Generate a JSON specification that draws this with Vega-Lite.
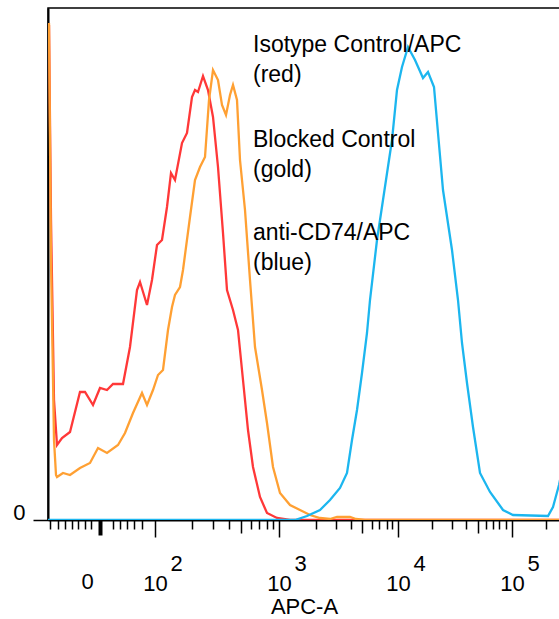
{
  "$schema": "https://vega.github.io/schema/vega-lite/v6.json",
  "autosize": {"type": "none"},
  "padding": {"left": 48, "top": 8, "right": 0, "bottom": 99},
  "width": 512,
  "height": 512,
  "background": "white",
  "config": {
    "view": {"stroke": "black", "strokeWidth": 1.5},
    "axis": {"labelFont": "Liberation Sans", "titleFont": "Liberation Sans", "labelColor": "black", "titleColor": "black", "domainColor": "black", "tickColor": "black", "grid": false}
  },
  "datasets": {
    "hist": [
      {"series": "Isotype Control/APC", "x": 2, "y": 495},
      {"series": "Isotype Control/APC", "x": 6, "y": 300},
      {"series": "Isotype Control/APC", "x": 12, "y": 120},
      {"series": "Isotype Control/APC", "x": 18, "y": 75},
      {"series": "Isotype Control/APC", "x": 28, "y": 82},
      {"series": "Isotype Control/APC", "x": 44, "y": 88},
      {"series": "Isotype Control/APC", "x": 64, "y": 128},
      {"series": "Isotype Control/APC", "x": 74, "y": 128},
      {"series": "Isotype Control/APC", "x": 90, "y": 115},
      {"series": "Isotype Control/APC", "x": 104, "y": 132},
      {"series": "Isotype Control/APC", "x": 118, "y": 130},
      {"series": "Isotype Control/APC", "x": 130, "y": 136},
      {"series": "Isotype Control/APC", "x": 150, "y": 136},
      {"series": "Isotype Control/APC", "x": 164, "y": 173},
      {"series": "Isotype Control/APC", "x": 178, "y": 230},
      {"series": "Isotype Control/APC", "x": 184, "y": 238},
      {"series": "Isotype Control/APC", "x": 198, "y": 215},
      {"series": "Isotype Control/APC", "x": 208, "y": 240},
      {"series": "Isotype Control/APC", "x": 218, "y": 275},
      {"series": "Isotype Control/APC", "x": 228, "y": 280},
      {"series": "Isotype Control/APC", "x": 238, "y": 313},
      {"series": "Isotype Control/APC", "x": 246, "y": 347},
      {"series": "Isotype Control/APC", "x": 254, "y": 340},
      {"series": "Isotype Control/APC", "x": 268, "y": 377},
      {"series": "Isotype Control/APC", "x": 278, "y": 387},
      {"series": "Isotype Control/APC", "x": 288, "y": 423},
      {"series": "Isotype Control/APC", "x": 294, "y": 430},
      {"series": "Isotype Control/APC", "x": 300, "y": 428},
      {"series": "Isotype Control/APC", "x": 310, "y": 444},
      {"series": "Isotype Control/APC", "x": 320, "y": 430},
      {"series": "Isotype Control/APC", "x": 330, "y": 403},
      {"series": "Isotype Control/APC", "x": 340, "y": 353},
      {"series": "Isotype Control/APC", "x": 350, "y": 287},
      {"series": "Isotype Control/APC", "x": 358, "y": 230},
      {"series": "Isotype Control/APC", "x": 370, "y": 210},
      {"series": "Isotype Control/APC", "x": 380, "y": 190},
      {"series": "Isotype Control/APC", "x": 390, "y": 140},
      {"series": "Isotype Control/APC", "x": 400, "y": 90},
      {"series": "Isotype Control/APC", "x": 410, "y": 53},
      {"series": "Isotype Control/APC", "x": 424, "y": 23},
      {"series": "Isotype Control/APC", "x": 438, "y": 7},
      {"series": "Isotype Control/APC", "x": 458, "y": 2},
      {"series": "Isotype Control/APC", "x": 484, "y": 0},
      {"series": "Isotype Control/APC", "x": 1024, "y": 0},
      {"series": "Blocked Control", "x": 2, "y": 497},
      {"series": "Blocked Control", "x": 6, "y": 260},
      {"series": "Blocked Control", "x": 12, "y": 80},
      {"series": "Blocked Control", "x": 16, "y": 45},
      {"series": "Blocked Control", "x": 18, "y": 43},
      {"series": "Blocked Control", "x": 30, "y": 47},
      {"series": "Blocked Control", "x": 44, "y": 45},
      {"series": "Blocked Control", "x": 64, "y": 52},
      {"series": "Blocked Control", "x": 84, "y": 57},
      {"series": "Blocked Control", "x": 100, "y": 72},
      {"series": "Blocked Control", "x": 118, "y": 67},
      {"series": "Blocked Control", "x": 140, "y": 75},
      {"series": "Blocked Control", "x": 154, "y": 87},
      {"series": "Blocked Control", "x": 170, "y": 107},
      {"series": "Blocked Control", "x": 188, "y": 127},
      {"series": "Blocked Control", "x": 198, "y": 115},
      {"series": "Blocked Control", "x": 210, "y": 130},
      {"series": "Blocked Control", "x": 220, "y": 145},
      {"series": "Blocked Control", "x": 230, "y": 150},
      {"series": "Blocked Control", "x": 240, "y": 190},
      {"series": "Blocked Control", "x": 248, "y": 213},
      {"series": "Blocked Control", "x": 254, "y": 225},
      {"series": "Blocked Control", "x": 264, "y": 233},
      {"series": "Blocked Control", "x": 270, "y": 250},
      {"series": "Blocked Control", "x": 284, "y": 303},
      {"series": "Blocked Control", "x": 294, "y": 340},
      {"series": "Blocked Control", "x": 304, "y": 353},
      {"series": "Blocked Control", "x": 314, "y": 363},
      {"series": "Blocked Control", "x": 322, "y": 420},
      {"series": "Blocked Control", "x": 330, "y": 450},
      {"series": "Blocked Control", "x": 340, "y": 440},
      {"series": "Blocked Control", "x": 348, "y": 415},
      {"series": "Blocked Control", "x": 356, "y": 405},
      {"series": "Blocked Control", "x": 364, "y": 425},
      {"series": "Blocked Control", "x": 370, "y": 435},
      {"series": "Blocked Control", "x": 378, "y": 420},
      {"series": "Blocked Control", "x": 384, "y": 360},
      {"series": "Blocked Control", "x": 394, "y": 310},
      {"series": "Blocked Control", "x": 404, "y": 240},
      {"series": "Blocked Control", "x": 414, "y": 173},
      {"series": "Blocked Control", "x": 428, "y": 130},
      {"series": "Blocked Control", "x": 438, "y": 97},
      {"series": "Blocked Control", "x": 450, "y": 53},
      {"series": "Blocked Control", "x": 464, "y": 27},
      {"series": "Blocked Control", "x": 484, "y": 15},
      {"series": "Blocked Control", "x": 504, "y": 10},
      {"series": "Blocked Control", "x": 524, "y": 5},
      {"series": "Blocked Control", "x": 544, "y": 2},
      {"series": "Blocked Control", "x": 564, "y": 1},
      {"series": "Blocked Control", "x": 578, "y": 3},
      {"series": "Blocked Control", "x": 604, "y": 3},
      {"series": "Blocked Control", "x": 616, "y": 1},
      {"series": "Blocked Control", "x": 634, "y": 0},
      {"series": "Blocked Control", "x": 1024, "y": 0},
      {"series": "anti-CD74/APC", "x": 0, "y": 0},
      {"series": "anti-CD74/APC", "x": 494, "y": 0},
      {"series": "anti-CD74/APC", "x": 518, "y": 4},
      {"series": "anti-CD74/APC", "x": 544, "y": 10},
      {"series": "anti-CD74/APC", "x": 564, "y": 20},
      {"series": "anti-CD74/APC", "x": 584, "y": 32},
      {"series": "anti-CD74/APC", "x": 598, "y": 47},
      {"series": "anti-CD74/APC", "x": 608, "y": 80},
      {"series": "anti-CD74/APC", "x": 618, "y": 110},
      {"series": "anti-CD74/APC", "x": 628, "y": 147},
      {"series": "anti-CD74/APC", "x": 638, "y": 187},
      {"series": "anti-CD74/APC", "x": 644, "y": 220},
      {"series": "anti-CD74/APC", "x": 658, "y": 280},
      {"series": "anti-CD74/APC", "x": 670, "y": 320},
      {"series": "anti-CD74/APC", "x": 688, "y": 380},
      {"series": "anti-CD74/APC", "x": 698, "y": 430},
      {"series": "anti-CD74/APC", "x": 708, "y": 453},
      {"series": "anti-CD74/APC", "x": 720, "y": 473},
      {"series": "anti-CD74/APC", "x": 734, "y": 460},
      {"series": "anti-CD74/APC", "x": 750, "y": 442},
      {"series": "anti-CD74/APC", "x": 760, "y": 448},
      {"series": "anti-CD74/APC", "x": 772, "y": 433},
      {"series": "anti-CD74/APC", "x": 780, "y": 387},
      {"series": "anti-CD74/APC", "x": 790, "y": 330},
      {"series": "anti-CD74/APC", "x": 808, "y": 270},
      {"series": "anti-CD74/APC", "x": 820, "y": 220},
      {"series": "anti-CD74/APC", "x": 828, "y": 177},
      {"series": "anti-CD74/APC", "x": 838, "y": 137},
      {"series": "anti-CD74/APC", "x": 850, "y": 93},
      {"series": "anti-CD74/APC", "x": 864, "y": 47},
      {"series": "anti-CD74/APC", "x": 884, "y": 28},
      {"series": "anti-CD74/APC", "x": 910, "y": 10},
      {"series": "anti-CD74/APC", "x": 930, "y": 5},
      {"series": "anti-CD74/APC", "x": 1000, "y": 4},
      {"series": "anti-CD74/APC", "x": 1010, "y": 13},
      {"series": "anti-CD74/APC", "x": 1022, "y": 35},
      {"series": "anti-CD74/APC", "x": 1024, "y": 40}
    ]
  },
  "resolve": {"axis": {"x": "independent", "y": "independent"}},
  "layer": [
    {
      "data": {"name": "hist"},
      "mark": {"type": "line", "strokeWidth": 2.3, "clip": true},
      "encoding": {
        "x": {
          "field": "x", "type": "quantitative",
          "scale": {"domain": [0, 1024], "nice": false, "zero": false},
          "axis": {
            "orient": "bottom",
            "title": "APC-A",
            "titleFontSize": 22, "titleFontWeight": "normal", "titlePadding": 2,
            "values": [4, 20, 34, 48, 60, 74, 86, 104, 130, 144, 158, 172, 188, 214, 288, 330, 362, 386, 406, 422, 438, 450, 462, 536, 576, 606, 628, 648, 662, 678, 688, 700, 768, 808, 836, 860, 876, 890, 902, 916, 928, 996],
            "labelExpr": "datum.value == 104 ? '0' : (datum.value == 214 || datum.value == 462 || datum.value == 700 || datum.value == 928) ? '10' : ''",
            "labelFontSize": 22, "labelBaseline": "alphabetic", "labelPadding": 53,
            "labelOverlap": false, "labelFlush": false, "labelBound": false,
            "labelOffset": {"condition": {"test": "datum.value == 104", "value": -13}, "value": 0},
            "tickSize": {"condition": [
              {"test": "datum.value == 214 || datum.value == 462 || datum.value == 700 || datum.value == 928", "value": 17},
              {"test": "datum.value == 386 || datum.value == 628 || datum.value == 860", "value": 13},
              {"test": "datum.value == 104", "value": 15}
            ], "value": 9},
            "tickWidth": {"condition": {"test": "datum.value == 104", "value": 4}, "value": 1.5},
            "domainWidth": 2
          }
        },
        "y": {
          "field": "y", "type": "quantitative",
          "scale": {"domain": [0, 512], "nice": false},
          "axis": {"orient": "left", "values": [0], "title": null, "tickSize": 15, "tickWidth": 1.5, "labelFontSize": 22, "labelPadding": 8, "labelOffset": -8, "domainWidth": 2}
        },
        "color": {
          "field": "series", "type": "nominal",
          "scale": {"domain": ["Isotype Control/APC", "Blocked Control", "anti-CD74/APC"], "range": ["#ff3838", "#ffa033", "#1cb6ef"]},
          "legend": null
        }
      }
    },
    {
      "data": {"values": [{}]},
      "mark": {"type": "text", "text": ["Isotype Control/APC", "(red)"], "align": "left", "baseline": "alphabetic", "font": "Liberation Sans", "fontSize": 23, "lineHeight": 30, "color": "black"},
      "encoding": {
        "x": {"datum": 410, "type": "quantitative",
          "axis": {
            "orient": "bottom", "title": null, "ticks": false, "domain": false,
            "values": [214, 462, 700, 928],
            "labelExpr": "datum.value == 214 ? '2' : datum.value == 462 ? '3' : datum.value == 700 ? '4' : '5'",
            "labelFontSize": 22, "labelBaseline": "alphabetic", "labelPadding": 50, "labelOffset": 21,
            "labelOverlap": false, "labelFlush": false, "labelBound": false
          }
        },
        "y": {"datum": 468, "type": "quantitative", "axis": null}
      }
    },
    {
      "data": {"values": [{}]},
      "mark": {"type": "text", "text": ["Blocked Control", "(gold)"], "align": "left", "baseline": "alphabetic", "font": "Liberation Sans", "fontSize": 23, "lineHeight": 30, "color": "black"},
      "encoding": {
        "x": {"datum": 410, "type": "quantitative", "axis": null},
        "y": {"datum": 373, "type": "quantitative", "axis": null}
      }
    },
    {
      "data": {"values": [{}]},
      "mark": {"type": "text", "text": ["anti-CD74/APC", "(blue)"], "align": "left", "baseline": "alphabetic", "font": "Liberation Sans", "fontSize": 23, "lineHeight": 30, "color": "black"},
      "encoding": {
        "x": {"datum": 410, "type": "quantitative", "axis": null},
        "y": {"datum": 280, "type": "quantitative", "axis": null}
      }
    }
  ]
}
